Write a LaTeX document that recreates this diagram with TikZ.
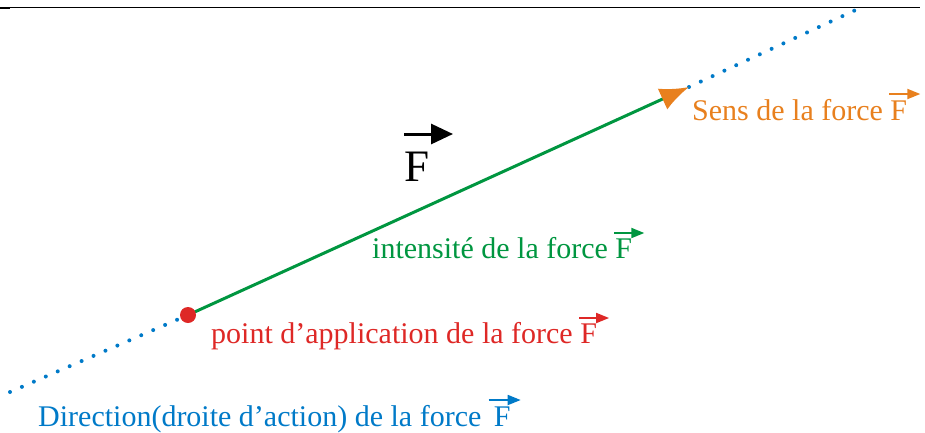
\documentclass[tikz,border=0pt]{standalone}
\usepackage{fontspec}
\setmainfont{Liberation Serif}
\usetikzlibrary{arrows.meta,calc}
\definecolor{forange}{RGB}{232,128,30}
\definecolor{fgreen}{RGB}{0,150,64}
\definecolor{fred}{RGB}{222,40,38}
\definecolor{fblue}{RGB}{0,122,200}
\begin{document}
\begin{tikzpicture}[x=1pt,y=-1pt,
  lbl/.style={anchor=base west,inner sep=0pt,font=\fontsize{30}{36}\selectfont},
  vecarrow/.style={line width=1.8pt,-{Triangle[length=13pt,width=10pt]}},
  dirline/.style={fblue,line width=4pt,line cap=round,dash pattern=on 0pt off 13pt}]
\useasboundingbox (0,0) rectangle (925,432);
\draw[line width=1pt] (0,7) -- (920,7);
\draw[line width=2pt] (0,7.5) -- (10,7.5);
\coordinate (D1) at (10,392);
\coordinate (A) at (188,315);
\coordinate (B) at (689,87);
\coordinate (D2) at (860,8);
\draw[dirline] (D1) -- (A);
\draw[dirline] (B) -- (D2);
\draw[fgreen,line width=3pt,-{Latex[length=29pt,width=23pt,color=forange]}] (A) -- (B);
\node[circle,fill=fred,inner sep=0pt,minimum size=16pt] (P) at (A) {};
% big F
\node[anchor=base west,inner sep=0pt,font=\fontsize{45}{50}\selectfont] (bigF) at (404,181) {F};
\draw[line width=3pt,-{Triangle[length=22pt,width=20pt]}] ($(bigF.base west)+(0,-47)$) -- ++(49,0);
% labels
\node[lbl,text=forange] (sens) at (692,120) {Sens de la force F};
\draw[vecarrow,forange] ($(sens.base east)+(-18,-26)$) -- ++(31,0);
\node[lbl,text=fgreen] (int) at (372,258) {intensité de la force F};
\draw[vecarrow,fgreen] ($(int.base east)+(-18,-25)$) -- ++(30,0);
\node[lbl,text=fred] (pt) at (211,343) {point d’application de la force F};
\draw[vecarrow,fred] ($(pt.base east)+(-18,-25)$) -- ++(30,0);
\node[lbl,text=fblue] (dir) at (38,426) {Direction(droite d’action) de la force\, F};
\draw[vecarrow,fblue] ($(dir.base east)+(-22,-26)$) -- ++(32,0);
\end{tikzpicture}
\end{document}
